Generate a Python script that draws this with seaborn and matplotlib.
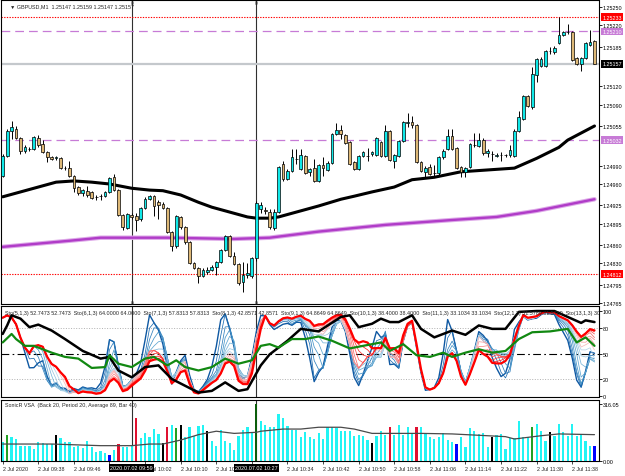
import numpy as np
import pandas as pd
import matplotlib
matplotlib.use('Agg')
import matplotlib.pyplot as plt
import matplotlib.transforms as mtrans
import seaborn as sns

# GBPUSD M1 candles, prices in points above 1.20000 (5157 -> 1.25157)
open_pts = [4973, 5006, 5047, 5050, 5035, 5014, 5017, 5017, 5035, 5026,
            5012, 5004, 5003, 5003, 4986, 4986, 4973, 4955, 4945, 4949,
            4947, 4939, 4940, 4940, 4947, 4971, 4950, 4909, 4888, 4909,
            4908, 4903, 4921, 4935, 4940, 4930, 4927, 4921, 4881, 4858,
            4906, 4890, 4865, 4831, 4822, 4809, 4816, 4819, 4824, 4832,
            4852, 4875, 4842, 4829, 4799, 4811, 4809, 4839, 4919, 4917,
            4914, 4888, 4914, 4993, 4968, 4981, 5001, 4985, 5006, 4980,
            4986, 4965, 4991, 4983, 4994, 5042, 5048, 5040, 5029, 4996,
            4985, 5006, 5006, 5009, 5007, 5029, 5006, 5047, 4998, 5006,
            5030, 5060, 5062, 5057, 4996, 4980, 4988, 4978, 4978, 5004,
            5017, 5039, 5019, 4988, 4980, 4988, 5024, 5022, 5032, 5011,
            5009, 5006, 5007, 5007, 5007, 5006, 5047, 5066, 5104, 5086,
            5138, 5153, 5153, 5178, 5176, 5191, 5204, 5209, 5209, 5166,
            5156, 5166, 5188, 5194]
high_pts = [5009, 5050, 5063, 5055, 5037, 5024, 5021, 5039, 5040, 5032,
            5014, 5006, 5006, 5004, 4989, 4998, 4975, 4957, 4952, 4957,
            4949, 4942, 4944, 4949, 4971, 4976, 4952, 4911, 4912, 4912,
            4912, 4922, 4939, 4942, 4942, 4934, 4930, 4922, 4883, 4909,
            4908, 4891, 4867, 4832, 4824, 4822, 4824, 4827, 4834, 4854,
            4876, 4876, 4849, 4831, 4832, 4831, 4840, 4932, 4930, 4922,
            4919, 4919, 4989, 4998, 4985, 5017, 5017, 5017, 5007, 4986,
            5001, 4993, 5004, 4998, 5043, 5060, 5057, 5042, 5030, 4998,
            5007, 5014, 5019, 5014, 5037, 5030, 5057, 5048, 5009, 5032,
            5063, 5076, 5071, 5058, 4998, 4989, 4993, 4991, 5006, 5017,
            5050, 5050, 5021, 4989, 4988, 5027, 5043, 5043, 5035, 5017,
            5014, 5011, 5012, 5009, 5024, 5050, 5080, 5106, 5106, 5152,
            5166, 5168, 5179, 5184, 5186, 5233, 5211, 5222, 5211, 5168,
            5168, 5193, 5212, 5196]
low_pts = [4971, 5004, 5034, 5034, 5009, 5011, 5014, 5016, 5021, 5011,
           4996, 4999, 4999, 4985, 4983, 4971, 4947, 4942, 4940, 4939,
           4935, 4934, 4934, 4939, 4945, 4949, 4908, 4885, 4886, 4903,
           4883, 4899, 4919, 4934, 4908, 4903, 4919, 4880, 4850, 4855,
           4886, 4862, 4829, 4821, 4798, 4808, 4813, 4817, 4811, 4831,
           4850, 4840, 4827, 4795, 4783, 4806, 4806, 4834, 4912, 4911,
           4886, 4885, 4912, 4965, 4967, 4980, 4993, 4983, 4976, 4973,
           4963, 4963, 4973, 4981, 4993, 5040, 5034, 5026, 4991, 4983,
           4983, 5004, 4998, 5006, 5006, 5004, 5004, 4998, 4986, 5004,
           5029, 5053, 5052, 4994, 4980, 4970, 4975, 4973, 4975, 5001,
           5016, 5016, 4985, 4971, 4971, 4986, 5021, 5021, 5007, 5004,
           4998, 5004, 4998, 5004, 5004, 5004, 5045, 5065, 5086, 5083,
           5127, 5152, 5152, 5173, 5173, 5189, 5202, 5206, 5161, 5155,
           5145, 5165, 5186, 5156]
close_pts = [5006, 5047, 5053, 5035, 5014, 5021, 5017, 5037, 5024, 5012,
             5004, 5001, 5003, 4986, 4986, 4973, 4953, 4945, 4950, 4942,
             4937, 4939, 4940, 4947, 4970, 4950, 4909, 4890, 4911, 4906,
             4901, 4921, 4935, 4940, 4924, 4926, 4921, 4881, 4858, 4908,
             4890, 4865, 4831, 4822, 4809, 4819, 4819, 4824, 4832, 4852,
             4875, 4842, 4829, 4798, 4811, 4814, 4839, 4929, 4926, 4916,
             4890, 4914, 4988, 4968, 4981, 5004, 5001, 5007, 4978, 4985,
             4965, 4991, 4986, 4994, 5042, 5048, 5042, 5027, 4993, 4985,
             5006, 5012, 5006, 5012, 5035, 5006, 5047, 4999, 5007, 5030,
             5062, 5062, 5057, 4996, 4981, 4986, 4976, 4978, 5004, 5014,
             5039, 5017, 4986, 4980, 4986, 5026, 5024, 5032, 5011, 5014,
             5009, 5007, 5007, 5007, 5016, 5047, 5070, 5104, 5088, 5140,
             5165, 5165, 5178, 5178, 5183, 5204, 5209, 5209, 5163, 5156,
             5166, 5191, 5193, 5157]

# moving averages (bar index, points)
ma_black_idx = [0, 4, 8, 12, 16, 20, 24, 29, 33, 36, 40, 44, 47, 51, 55, 57, 60, 62, 67,
                71, 76, 79, 83, 88, 92, 97, 103, 109, 115, 120, 125, 127, 133]
ma_black_pts = [4939, 4947, 4955, 4963, 4965, 4963, 4960, 4953, 4950, 4949, 4942, 4930, 4922,
                4914, 4906, 4904, 4904, 4906, 4916, 4924, 4935, 4940, 4947, 4955, 4967, 4971,
                4980, 4983, 4986, 5002, 5020, 5032, 5055]
ma_purple_idx = [0, 15, 22, 29, 37, 52, 60, 71, 86, 101, 111, 120, 133]
ma_purple_pts = [4857, 4867, 4872, 4872, 4872, 4870, 4872, 4882, 4893, 4901, 4906, 4916, 4935]

# horizontal levels
level_red = [1.25233, 1.24812]
level_violet = [1.25210, 1.25032]
bid = 1.25157
price_ticks = [1.25250, 1.25220, 1.25185, 1.25120, 1.25090, 1.25055, 1.24990, 1.24960,
               1.24925, 1.24895, 1.24860, 1.24830, 1.24795, 1.24765]

# stochastic panel: smooth black and green lines
sto_black_idx = [0, 1, 2, 4, 6, 8, 11, 14, 18, 22, 24, 26, 29, 32, 35, 38, 41, 44, 47, 50,
                 53, 55, 58, 60, 64, 67, 71, 76, 78, 80, 83, 85, 87, 89, 92, 94, 97, 100,
                 101, 104, 107, 110, 113, 116, 120, 124, 127, 130, 131, 133]
sto_black = [73, 83, 95, 91, 81, 84, 77, 67, 53, 44, 46, 30, 22, 34, 36, 20, 12, 4, 6, 16,
             6, 8, 36, 49, 65, 79, 76, 93, 95, 81, 85, 91, 87, 87, 95, 79, 69, 75,
             77, 72, 83, 79, 79, 99, 100, 100, 93, 86, 89, 87]
sto_green_idx = [0, 2, 3, 5, 7, 9, 11, 14, 17, 20, 23, 24, 26, 29, 32, 34, 37, 39, 41, 44,
                 47, 50, 53, 56, 58, 60, 62, 65, 68, 71, 74, 78, 82, 85, 87, 90, 93, 96,
                 99, 101, 104, 107, 110, 113, 116, 119, 123, 127, 129, 131, 133]
sto_green = [63, 73, 67, 59, 59, 55, 51, 46, 44, 33, 34, 48, 38, 34, 44, 46, 36, 42, 34, 30,
             34, 44, 38, 42, 59, 61, 57, 67, 67, 70, 65, 56, 60, 63, 53, 61, 48, 46,
             51, 46, 51, 55, 51, 53, 67, 75, 76, 79, 63, 69, 59]
sto_periods = list(range(5, 21))
sto_text = ("Sto(5,1,3) 52.7473 52.7473  Sto(6,1,3) 64.0000 64.0000  Sto(7,1,3) 57.8313 57.8313  "
            "Sto(8,1,3) 42.8571 42.8571  Sto(9,1,3) 64.8649 64.8649  Sto(10,1,3) 38.4000 38.4000  "
            "Sto(11,1,3) 33.1034 33.1034  Sto(12,1,3) 31.5789 31.5789  Sto(13,1,3) 30.1887 30.1887")

# volume panel
volume = [104, 144, 135, 122, 85, 85, 85, 66, 104, 98,
          94, 94, 146, 126, 104, 104, 76, 85, 72, 109,
          76, 48, 57, 43, 33, 61, 94, 79, 79, 85,
          238, 126, 153, 135, 177, 150, 98, 187, 201, 181,
          201, 135, 190, 140, 196, 199, 165, 112, 85, 172,
          112, 98, 61, 140, 172, 187, 153, 316, 220, 201,
          190, 190, 260, 238, 196, 172, 172, 131, 159, 131,
          122, 153, 122, 187, 187, 183, 165, 165, 168, 140,
          146, 140, 116, 98, 140, 165, 146, 187, 146, 199,
          146, 187, 150, 187, 187, 150, 135, 122, 131, 153,
          116, 104, 94, 135, 79, 183, 168, 150, 153, 79,
          131, 146, 150, 66, 127, 127, 223, 131, 131, 187,
          205, 168, 109, 159, 140, 205, 159, 140, 205, 140,
          146, 112, 85, 85]
vsa_signal = {1: 'green', 12: 'black', 24: 'blue', 26: 'red', 30: 'red', 36: 'black',
              37: 'red', 39: 'green', 40: 'black', 46: 'black', 57: 'darkgreen', 83: 'black',
              87: 'red', 93: 'red', 102: 'blue', 110: 'black', 119: 'green', 123: 'black',
              133: 'blue'}
vol_ma_idx = [0, 11, 22, 29, 33, 36, 40, 44, 48, 52, 57, 58, 63, 67, 71, 76, 79, 83, 86,
              94, 101, 109, 113, 115, 118, 121, 125, 133]
vol_ma = [94, 94, 85, 85, 94, 94, 116, 146, 165, 153, 159, 165, 177, 177, 187, 187, 177,
          153, 153, 153, 150, 140, 135, 122, 131, 140, 150, 146]

time_idx = list(range(0, 134, 8))
time_labels = ['2 Jul 2020'] + ['2 Jul %02d:%02d' % divmod(9 * 60 + 30 + i, 60) for i in time_idx[1:]]
vlines = {29: '2020.07.02 09:59', 57: '2020.07.02 10:27'}

# ---------------------------------------------------------------
sns.set_style('white')
plt.rcParams['font.family'] = ['Liberation Sans', 'DejaVu Sans']
FS = 3.9

df = pd.DataFrame({'o': open_pts, 'h': high_pts, 'l': low_pts, 'c': close_pts})
df = 1.2 + df / 1e5
df['i'] = np.arange(len(df))
n = len(df)

W, H = 625, 477
fig = plt.figure(figsize=(W / 100, H / 100), dpi=100)


def px_axes(x0, y0, x1, y1):
    return fig.add_axes([x0 / W, 1 - y1 / H, (x1 - x0) / W, (y1 - y0) / H])


ax = px_axes(1.5, 1, 598.5, 305)
ax2 = px_axes(1.5, 306.5, 598.5, 398)
ax3 = px_axes(1.5, 401, 598.5, 462)
xlim = (-0.27, 133.9)

for a in (ax, ax2, ax3):
    a.set_xlim(*xlim)
    for s in a.spines.values():
        s.set_color('black')
        s.set_linewidth(0.8)
    a.yaxis.tick_right()
    a.tick_params(axis='y', labelsize=FS, length=2, pad=1.2, width=0.6, colors='black')
    a.set_xticks([])
    for k in vlines:
        a.axvline(k, color='#303030', lw=0.8, zorder=1)

# ---- main price panel
ax.set_ylim(1.2 + 4763.4 / 1e5, 1.2 + 5261.4 / 1e5)
for lv in level_red:
    ax.axhline(lv, color='red', lw=0.8, ls=(0, (1.2, 1.2)), zorder=1)
for lv in level_violet:
    ax.axhline(lv, color='#C77BD6', lw=0.9, ls=(0, (7, 4)), zorder=1)
ax.axhline(bid, color='#C4C8CC', lw=1.6, zorder=1)

sns.lineplot(x=ma_purple_idx, y=1.2 + np.array(ma_purple_pts) / 1e5, ax=ax,
             color='#DDA8E8', lw=3.2, zorder=2)
sns.lineplot(x=ma_purple_idx, y=1.2 + np.array(ma_purple_pts) / 1e5, ax=ax,
             color='#B03CC8', lw=1.7, zorder=2)
sns.lineplot(x=ma_black_idx, y=1.2 + np.array(ma_black_pts) / 1e5, ax=ax,
             color='black', lw=2.2, zorder=2)

bull = df['c'] >= df['o']
ax.vlines(df['i'], df['l'], df['h'], color='black', lw=0.7, zorder=3)
body_lo = np.minimum(df['o'], df['c'])
body_h = np.maximum(np.abs(df['c'] - df['o']), 0.000004)
ax.bar(df['i'], body_h, bottom=body_lo, width=0.62,
       color=np.where(bull, '#10E8E8', '#DDB877'), edgecolor='black', linewidth=0.5, zorder=4)

ax.set_yticks(price_ticks)
ax.set_yticklabels(['%.5f' % p for p in price_ticks])
ax.set_xlabel('')
ax.set_ylabel('')

tr = mtrans.blended_transform_factory(ax.transAxes, ax.transData)
boxes = [(1.25233, 'red'), (1.25210, '#C77BD6'), (1.25157, 'black'),
         (1.25032, '#C77BD6'), (1.24812, 'red')]
for p, col in boxes:
    ax.text(1.006, p, '%.5f' % p, transform=tr, fontsize=FS, color='white', va='center',
            ha='left', zorder=10, clip_on=False,
            bbox=dict(boxstyle='square,pad=0.25', fc=col, ec='none'))
ax.text(0.014, 0.988, '\u25bc GBPUSD,M1  1.25147 1.25159 1.25147 1.25157', transform=ax.transAxes,
        fontsize=FS, va='top', ha='left')
for k in vlines:
    ax.text(k, 0.999, '0', transform=mtrans.blended_transform_factory(ax.transData, ax.transAxes),
            fontsize=3.5, ha='center', va='top')

# ---- stochastic panel
hi, lo, cl = df['h'], df['l'], df['c']
blues = sns.color_palette('Blues_r', 12)[1:9]
reds = sns.light_palette('#FF0000', 10)[2:]
for j, k in enumerate(sto_periods):
    hh = hi.rolling(k, min_periods=1).max()
    ll = lo.rolling(k, min_periods=1).min()
    sto = 100 * (cl - ll).rolling(3, min_periods=1).sum() / (hh - ll).rolling(3, min_periods=1).sum()
    if k <= 12:
        col, lw = blues[j], (1.0 if k == 5 else 0.55)
    else:
        col, lw = reds[j - 8], (1.6 if k == 20 else 0.55)
    sns.lineplot(x=df['i'], y=sto, ax=ax2, color=col, lw=lw, zorder=2 + j * 0.01)

sns.lineplot(x=sto_black_idx, y=sto_black, ax=ax2, color='black', lw=1.8, zorder=3)
sns.lineplot(x=sto_green_idx, y=sto_green, ax=ax2, color='#118811', lw=1.6, zorder=3)
ax2.axhline(80, color='#B0B0B0', lw=0.7, ls=':', zorder=1)
ax2.axhline(20, color='#B0B0B0', lw=0.7, ls=':', zorder=1)
ax2.axhline(50, color='black', lw=0.8, ls=(0, (7, 3, 1.5, 3)), zorder=1)
ax2.set_ylim(-1.2, 106.5)
ax2.set_yticks([100, 80, 50, 20, 0])
ax2.set_yticklabels(['100', '80', '50', '20', '0'])
ax2.set_xlabel('')
ax2.set_ylabel('')
ax2.text(0.006, 0.95, sto_text, transform=ax2.transAxes, fontsize=FS, va='top', ha='left',
         clip_on=True, zorder=5)
for k in vlines:
    ax2.text(k, 1.0, '0', transform=mtrans.blended_transform_factory(ax2.transData, ax2.transAxes),
             fontsize=3.5, ha='center', va='bottom', clip_on=False)

# ---- volume panel
cmap = {'green': '#22A022', 'black': 'black', 'blue': '#0000FF', 'red': '#E01030',
        'darkgreen': '#0B5E0B'}
vol_cols = [cmap.get(vsa_signal.get(i), '#22F4F4') for i in range(n)]
ax3.bar(df['i'], volume, width=0.5, color=vol_cols, linewidth=0, zorder=2)
sns.lineplot(x=vol_ma_idx, y=vol_ma, ax=ax3, color='#4A4A4A', lw=0.9, zorder=3)
ax3.set_ylim(0, 338)
ax3.set_yticks([316.05, 0])
ax3.set_yticklabels(['316.05', '0.00'])
ax3.set_xlabel('')
ax3.set_ylabel('')
ax3.text(0.006, 0.96, 'SonicR VSA  (Back 20, Period 20, Average 89, Bar 40)', transform=ax3.transAxes,
         fontsize=FS, va='top', ha='left')
ax3.set_xticks(time_idx)
ax3.set_xticklabels(time_labels, fontsize=FS, ha='left')
ax3.tick_params(axis='x', length=2, pad=1.5, width=0.6, bottom=True)
trx = mtrans.blended_transform_factory(ax3.transData, ax3.transAxes)
for k, lab in vlines.items():
    ax3.text(k, -0.11, lab, transform=trx, fontsize=FS, color='white', ha='center', va='center',
             zorder=10, clip_on=False, bbox=dict(boxstyle='square,pad=0.25', fc='black', ec='none'))

fig.savefig('out.png', dpi=100)
